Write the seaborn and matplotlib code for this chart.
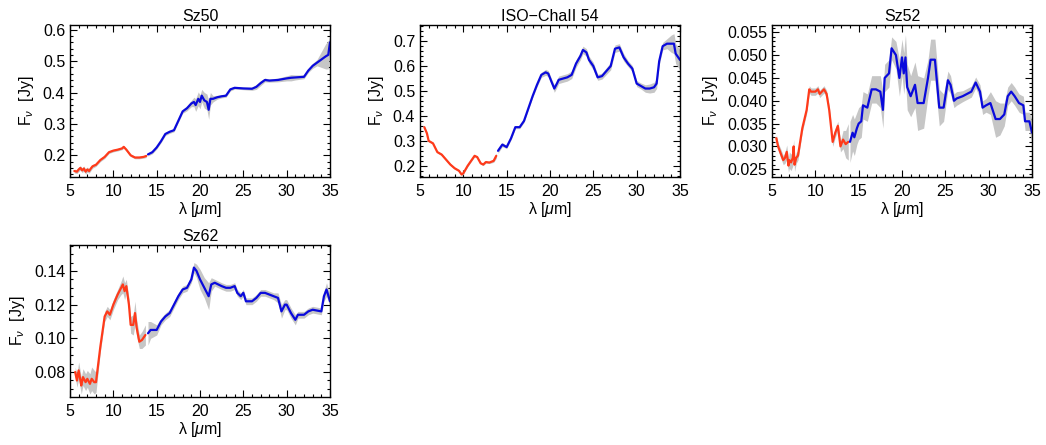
import numpy as np
import matplotlib
matplotlib.use("Agg")
import matplotlib.pyplot as plt
from matplotlib.ticker import MultipleLocator, AutoMinorLocator, FormatStrFormatter
import seaborn as sns

sns.set_style("ticks")
plt.rcParams['font.family'] = ['Liberation Sans', 'DejaVu Sans']
plt.rcParams['mathtext.fontset'] = 'custom'
plt.rcParams['mathtext.it'] = 'Liberation Sans:italic'
plt.rcParams['mathtext.rm'] = 'Liberation Sans'
for k in ['text.color', 'axes.labelcolor', 'xtick.color', 'ytick.color', 'axes.edgecolor']:
    plt.rcParams[k] = 'black'

# ---------------- Data ----------------
titles = ["Sz50", "ISO\u2212ChaII 54", "Sz52", "Sz62"]

# Sz50
sz50_red_x = [5.5, 5.8, 6.0, 6.2, 6.4, 6.6, 6.8, 7.0, 7.2, 7.4, 7.6, 8.0, 8.5, 9.0, 9.5, 10.0, 10.5, 11.0, 11.2, 11.5, 12.0, 12.5, 13.0, 13.5, 13.8]
sz50_red_y = [0.150, 0.148, 0.155, 0.160, 0.152, 0.158, 0.148, 0.155, 0.150, 0.158, 0.165, 0.170, 0.185, 0.195, 0.210, 0.215, 0.218, 0.222, 0.227, 0.218, 0.200, 0.193, 0.193, 0.195, 0.198]
sz50_red_e = [0.006, 0.006, 0.007, 0.007, 0.007, 0.008, 0.008, 0.008, 0.007, 0.007, 0.006, 0.005, 0.005, 0.005, 0.004, 0.004, 0.004, 0.004, 0.004, 0.004, 0.004, 0.004, 0.004, 0.004, 0.005]
sz50_blue_x = [14.0, 14.5, 15.0, 15.5, 16.0, 16.5, 17.0, 17.5, 18.0, 18.5, 19.0, 19.3, 19.5, 19.8, 20.0, 20.2, 20.5, 20.8, 21.0, 21.2, 21.5, 22.0, 22.5, 23.0, 23.5, 24.0, 25.0, 26.0, 26.5, 27.0, 27.5, 28.0, 29.0, 30.0, 30.5, 31.0, 32.0, 32.5, 33.0, 33.5, 34.0, 34.5, 34.8, 35.0]
sz50_blue_y = [0.203, 0.210, 0.225, 0.245, 0.268, 0.275, 0.280, 0.310, 0.340, 0.350, 0.365, 0.370, 0.360, 0.380, 0.370, 0.390, 0.375, 0.370, 0.345, 0.380, 0.380, 0.385, 0.388, 0.390, 0.410, 0.415, 0.413, 0.412, 0.418, 0.430, 0.440, 0.438, 0.440, 0.445, 0.447, 0.448, 0.450, 0.470, 0.485, 0.495, 0.505, 0.515, 0.520, 0.560]
sz50_blue_e = [0.005, 0.005, 0.005, 0.005, 0.005, 0.005, 0.005, 0.005, 0.006, 0.008, 0.010, 0.015, 0.020, 0.022, 0.022, 0.020, 0.025, 0.025, 0.030, 0.020, 0.010, 0.006, 0.005, 0.005, 0.005, 0.004, 0.004, 0.005, 0.008, 0.008, 0.006, 0.005, 0.006, 0.008, 0.010, 0.008, 0.006, 0.006, 0.008, 0.010, 0.025, 0.040, 0.045, 0.020]

# ISO-ChaII 54
iso_red_x = [5.5, 5.8, 6.0, 6.5, 7.0, 7.5, 8.0, 8.5, 9.0, 9.5, 9.8, 10.0, 10.5, 11.0, 11.3, 11.6, 12.0, 12.3, 12.6, 13.0, 13.5, 13.8]
iso_red_y = [0.355, 0.330, 0.300, 0.290, 0.255, 0.245, 0.225, 0.205, 0.190, 0.180, 0.165, 0.170, 0.200, 0.225, 0.240, 0.235, 0.210, 0.205, 0.215, 0.213, 0.220, 0.240]
iso_red_e = [0.004, 0.004, 0.004, 0.004, 0.004, 0.004, 0.004, 0.004, 0.004, 0.004, 0.004, 0.004, 0.004, 0.004, 0.004, 0.004, 0.004, 0.004, 0.004, 0.004, 0.006, 0.010]
iso_blue_x = [14.0, 14.5, 15.0, 15.5, 16.0, 16.5, 17.0, 17.5, 18.0, 18.5, 19.0, 19.5, 19.8, 20.2, 20.5, 20.8, 21.0, 22.0, 22.5, 23.0, 23.5, 23.8, 24.2, 24.5, 25.0, 25.5, 26.0, 27.0, 27.5, 28.0, 28.5, 29.0, 29.5, 30.0, 30.5, 31.0, 31.5, 32.0, 32.3, 32.6, 33.0, 33.5, 34.0, 34.3, 34.5, 35.0]
iso_blue_y = [0.260, 0.285, 0.275, 0.310, 0.355, 0.355, 0.380, 0.430, 0.480, 0.525, 0.565, 0.575, 0.570, 0.535, 0.510, 0.530, 0.545, 0.555, 0.565, 0.610, 0.640, 0.665, 0.655, 0.625, 0.600, 0.555, 0.560, 0.600, 0.670, 0.675, 0.635, 0.610, 0.590, 0.530, 0.520, 0.510, 0.510, 0.515, 0.530, 0.620, 0.680, 0.690, 0.690, 0.690, 0.650, 0.625]
iso_blue_e = [0.010, 0.008, 0.006, 0.006, 0.006, 0.006, 0.006, 0.006, 0.006, 0.008, 0.010, 0.012, 0.012, 0.012, 0.015, 0.015, 0.015, 0.015, 0.015, 0.015, 0.015, 0.015, 0.015, 0.015, 0.015, 0.012, 0.012, 0.015, 0.015, 0.015, 0.015, 0.012, 0.012, 0.012, 0.012, 0.015, 0.018, 0.020, 0.020, 0.015, 0.015, 0.020, 0.035, 0.040, 0.040, 0.040]

# Sz52
sz52_red_x = [5.5, 5.7, 6.0, 6.3, 6.5, 6.7, 6.9, 7.0, 7.2, 7.4, 7.5, 7.6, 7.8, 8.0, 8.5, 9.0, 9.3, 9.5, 10.0, 10.3, 10.5, 11.0, 11.3, 11.6, 12.0, 12.3, 12.6, 12.9, 13.2, 13.5, 13.8]
sz52_red_y = [0.0318, 0.0300, 0.0285, 0.0270, 0.0275, 0.0288, 0.0258, 0.0270, 0.0265, 0.0275, 0.0300, 0.0260, 0.0275, 0.0280, 0.0340, 0.0380, 0.0425, 0.0420, 0.0420, 0.0425, 0.0415, 0.0425, 0.0415, 0.0380, 0.0310, 0.0330, 0.0345, 0.0300, 0.0315, 0.0305, 0.0310]
sz52_red_e = [0.0008, 0.0008, 0.0010, 0.0010, 0.0012, 0.0015, 0.0015, 0.0018, 0.0018, 0.0018, 0.0015, 0.0015, 0.0012, 0.0010, 0.0008, 0.0008, 0.0008, 0.0008, 0.0008, 0.0008, 0.0008, 0.0008, 0.0008, 0.0008, 0.0010, 0.0010, 0.0010, 0.0012, 0.0020, 0.0030, 0.0040]
sz52_blue_x = [14.0, 14.3, 14.5, 14.8, 15.0, 15.3, 15.5, 16.0, 16.5, 17.0, 17.5, 17.8, 18.0, 18.5, 18.8, 19.3, 19.7, 20.0, 20.2, 20.4, 20.6, 21.0, 21.5, 21.8, 22.5, 23.0, 23.3, 23.8, 24.3, 24.8, 25.3, 25.6, 26.0, 26.3, 27.0, 27.5, 28.0, 28.5, 29.0, 29.3, 29.7, 30.2, 30.8, 31.3, 31.8, 32.2, 32.6, 33.0, 33.5, 34.0, 34.2, 34.7, 35.0]
sz52_blue_y = [0.0310, 0.0330, 0.0320, 0.0340, 0.0350, 0.0355, 0.0390, 0.0385, 0.0425, 0.0425, 0.0420, 0.0380, 0.0450, 0.0460, 0.0515, 0.0500, 0.0450, 0.0495, 0.0460, 0.0495, 0.0430, 0.0410, 0.0435, 0.0395, 0.0395, 0.0450, 0.0490, 0.0490, 0.0385, 0.0385, 0.0445, 0.0435, 0.0400, 0.0405, 0.0410, 0.0415, 0.0420, 0.0440, 0.0420, 0.0385, 0.0390, 0.0395, 0.0360, 0.0360, 0.0370, 0.0410, 0.0420, 0.0410, 0.0395, 0.0390, 0.0355, 0.0355, 0.0330]
sz52_blue_e = [0.0045, 0.0040, 0.0040, 0.0035, 0.0035, 0.0035, 0.0030, 0.0030, 0.0030, 0.0030, 0.0035, 0.0040, 0.0030, 0.0030, 0.0025, 0.0030, 0.0040, 0.0040, 0.0045, 0.0050, 0.0050, 0.0045, 0.0050, 0.0060, 0.0055, 0.0040, 0.0045, 0.0045, 0.0040, 0.0030, 0.0020, 0.0020, 0.0015, 0.0015, 0.0012, 0.0012, 0.0012, 0.0012, 0.0015, 0.0015, 0.0015, 0.0025, 0.0040, 0.0035, 0.0025, 0.0020, 0.0020, 0.0020, 0.0020, 0.0020, 0.0020, 0.0020, 0.0025]

# Sz62
sz62_red_x = [5.6, 5.8, 6.0, 6.2, 6.3, 6.5, 6.8, 7.0, 7.3, 7.5, 7.8, 8.0, 8.5, 9.0, 9.3, 9.6, 10.0, 10.5, 10.9, 11.1, 11.3, 11.5, 11.8, 12.0, 12.3, 12.5, 12.7, 13.0, 13.3, 13.7]
sz62_red_y = [0.080, 0.075, 0.081, 0.075, 0.072, 0.077, 0.074, 0.076, 0.073, 0.076, 0.074, 0.074, 0.095, 0.113, 0.116, 0.114, 0.120, 0.126, 0.130, 0.132, 0.128, 0.131, 0.120, 0.108, 0.108, 0.115, 0.106, 0.098, 0.099, 0.102]
sz62_red_e = [0.003, 0.004, 0.005, 0.005, 0.005, 0.005, 0.005, 0.005, 0.006, 0.007, 0.007, 0.006, 0.003, 0.003, 0.003, 0.003, 0.003, 0.003, 0.004, 0.005, 0.005, 0.004, 0.004, 0.005, 0.006, 0.007, 0.005, 0.004, 0.005, 0.006]
sz62_blue_x = [14.0, 14.3, 15.0, 15.5, 16.0, 16.5, 17.0, 17.5, 18.0, 18.5, 19.0, 19.3, 19.6, 20.0, 20.5, 21.0, 21.3, 21.7, 22.5, 23.0, 23.5, 24.0, 24.3, 24.7, 25.0, 25.3, 26.0, 26.5, 27.0, 27.5, 28.0, 28.5, 29.0, 29.4, 29.8, 30.0, 30.5, 31.0, 31.3, 32.0, 32.5, 33.0, 34.0, 34.3, 34.6, 35.0]
sz62_blue_y = [0.103, 0.105, 0.105, 0.110, 0.113, 0.115, 0.120, 0.125, 0.129, 0.130, 0.135, 0.142, 0.140, 0.135, 0.130, 0.125, 0.132, 0.133, 0.131, 0.130, 0.130, 0.131, 0.127, 0.125, 0.127, 0.122, 0.122, 0.124, 0.127, 0.127, 0.126, 0.125, 0.124, 0.116, 0.120, 0.120, 0.115, 0.111, 0.114, 0.114, 0.116, 0.117, 0.116, 0.125, 0.129, 0.122]
sz62_blue_e = [0.007, 0.005, 0.003, 0.002, 0.002, 0.002, 0.002, 0.002, 0.002, 0.002, 0.002, 0.003, 0.004, 0.006, 0.006, 0.008, 0.004, 0.002, 0.002, 0.002, 0.002, 0.002, 0.002, 0.002, 0.002, 0.002, 0.002, 0.002, 0.002, 0.002, 0.002, 0.002, 0.003, 0.004, 0.003, 0.003, 0.003, 0.003, 0.002, 0.002, 0.002, 0.002, 0.002, 0.003, 0.004, 0.003]

ylims = [(0.131, 0.615), (0.155, 0.765), (0.0233, 0.0566), (0.0652, 0.1554)]
ymajor = [0.1, 0.1, 0.005, 0.02]
yfmt = ["%.1f", "%.1f", "%.3f", "%.2f"]

panels = [
    (sz50_red_x, sz50_red_y, sz50_red_e, sz50_blue_x, sz50_blue_y, sz50_blue_e),
    (iso_red_x, iso_red_y, iso_red_e, iso_blue_x, iso_blue_y, iso_blue_e),
    (sz52_red_x, sz52_red_y, sz52_red_e, sz52_blue_x, sz52_blue_y, sz52_blue_e),
    (sz62_red_x, sz62_red_y, sz62_red_e, sz62_blue_x, sz62_blue_y, sz62_blue_e),
]

# ---------------- Layout ----------------
W, H = 1046, 445
fig = plt.figure(figsize=(W / 100, H / 100), dpi=100)
boxes = [(70, 25), (420, 25), (772, 25), (70, 245)]
aw, ah = 260, 152

RED = "#ff3a1a"
BLUE = "#0a0adc"
GREY = "#c6c6c6"
FS = 11.5

for i, (box, data) in enumerate(zip(boxes, panels)):
    l, t = box
    ax = fig.add_axes([l / W, 1 - (t + ah) / H, aw / W, ah / H])
    rx, ry, re, bx, by, be = [np.array(a) for a in data]
    ax.fill_between(rx, ry - re, ry + re, color=GREY, lw=0)
    ax.fill_between(bx, by - be, by + be, color=GREY, lw=0)
    sns.lineplot(x=rx, y=ry, ax=ax, color=RED, lw=1.6, sort=False)
    sns.lineplot(x=bx, y=by, ax=ax, color=BLUE, lw=1.6, sort=False)
    ax.set_xlim(5, 35)
    ax.set_ylim(*ylims[i])
    ax.xaxis.set_major_locator(MultipleLocator(5))
    ax.xaxis.set_minor_locator(MultipleLocator(1))
    ax.yaxis.set_major_locator(MultipleLocator(ymajor[i]))
    ax.yaxis.set_minor_locator(AutoMinorLocator(5 if i < 3 else 4))
    ax.yaxis.set_major_formatter(FormatStrFormatter(yfmt[i]))
    ax.tick_params(which="both", direction="in", top=True, right=True, labelsize=FS, width=0.8, colors="black")
    ax.tick_params(which="major", length=5)
    ax.tick_params(which="minor", length=2.5)
    ax.tick_params(axis="x", pad=5)
    for s in ax.spines.values():
        s.set_linewidth(1.0)
        s.set_visible(True)
        s.set_color("black")
    ax.set_title(titles[i], fontsize=FS, pad=3, color="black")
    ax.set_xlabel("\u03bb [$\\mu$m]", fontsize=FS, labelpad=1, color="black")
    ax.set_ylabel("F$_\\nu$  [Jy]", fontsize=FS, labelpad=5, color="black")

fig.savefig("out.png", dpi=100)
